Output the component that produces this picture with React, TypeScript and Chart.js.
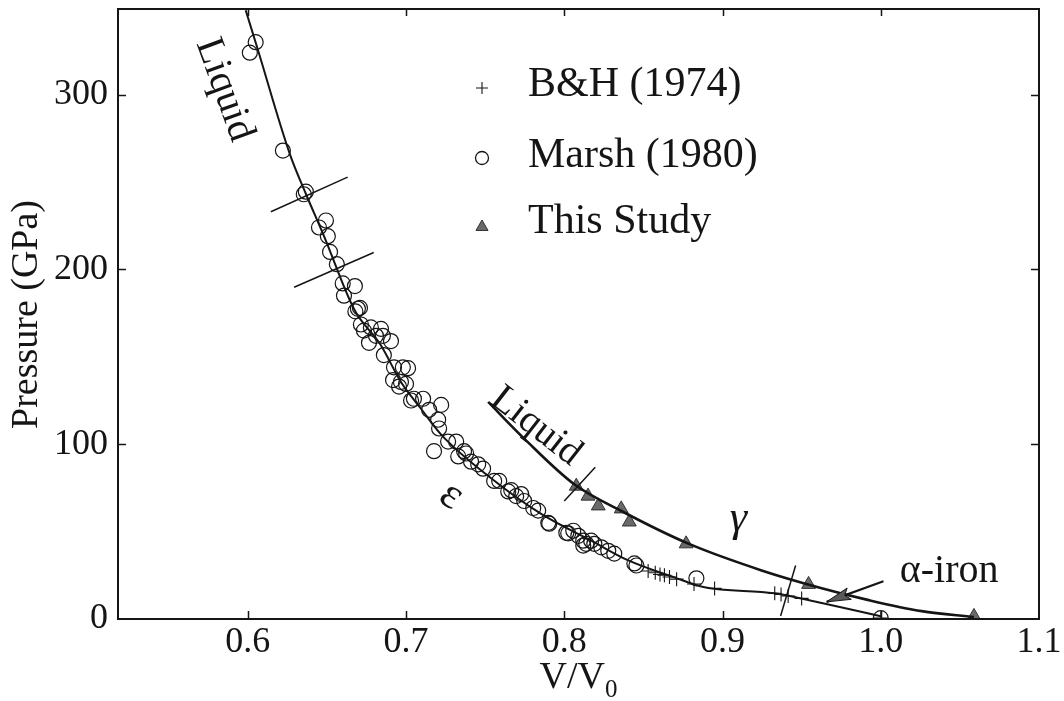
import React, { useEffect, useRef } from 'react';
import { Chart, registerables } from 'chart.js';

Chart.register(...registerables);

const FONT = '"Liberation Serif", "Times New Roman", serif';
const INK = '#151515';

// axis ticks
const xTickValues = [0.6, 0.7, 0.8, 0.9, 1.0, 1.1];
const yTickValues = [0, 100, 200, 300];

// epsilon / liquid Hugoniot (main curve)
const epsCurveX = [0.5987, 0.6061, 0.6266, 0.6367, 0.6483, 0.6673, 0.6842, 0.6968, 0.7095, 0.7222, 0.7538, 0.7854, 0.8171, 0.8405, 0.8696, 0.8886, 0.9329, 0.9627, 1.0];
const epsCurveY = [348.3, 326.5, 266, 243.3, 218.8, 177.1, 156.5, 135.6, 120.3, 105.5, 80.5, 60.1, 44.8, 33.5, 23.8, 18.2, 14.7, 9.1, 1.6];

// gamma / liquid Hugoniot (upper right curve)
const gammaCurveX = [0.7519, 0.7747, 0.8063, 0.8361, 0.8785, 0.9247, 0.9627, 0.9924, 1.0259, 1.0589];
const gammaCurveY = [124.2, 103.2, 77.1, 61.8, 43.1, 27.8, 17.6, 10.8, 4.5, 1.1];

// B&H (1974)
const bhX = [0.853, 0.8575, 0.8605, 0.8633, 0.8665, 0.871, 0.882, 0.895, 0.933, 0.937, 0.9415, 0.95, 1.0];
const bhY = [27.5, 26.5, 25.5, 25, 24, 22.8, 20, 17.5, 14.7, 14, 13.2, 11.8, 0.5];

// Marsh (1980)
const marshX = [0.605, 0.6013, 0.6222, 0.6367, 0.6354, 0.645, 0.6494, 0.6506, 0.652, 0.6563, 0.66, 0.6677, 0.6608, 0.6696, 0.6709, 0.668, 0.6715, 0.6734, 0.6778, 0.6842, 0.6854, 0.681, 0.6766, 0.6905, 0.686, 0.6924, 0.698, 0.7013, 0.6918, 0.6968, 0.7, 0.6956, 0.705, 0.7108, 0.7032, 0.7222, 0.7146, 0.7203, 0.7209, 0.7177, 0.7266, 0.7317, 0.7367, 0.733, 0.738, 0.7411, 0.7456, 0.7487, 0.7557, 0.7589, 0.7646, 0.7665, 0.7696, 0.7728, 0.7747, 0.7804, 0.7835, 0.7899, 0.7905, 0.8013, 0.8057, 0.8025, 0.8089, 0.812, 0.8139, 0.812, 0.817, 0.819, 0.8234, 0.8278, 0.8316, 0.8443, 0.8456, 0.8835, 1.0];
const marshY = [330, 324, 268, 244.5, 243, 224, 228, 219, 210, 203, 192, 190.5, 185, 177.5, 178, 176, 168.5, 165, 166.8, 166, 162, 162, 158, 159, 151, 144, 144, 143.5, 136.7, 135.6, 134.5, 133, 126, 126, 125, 122.5, 119.7, 114, 109, 96, 101.5, 101.5, 96, 93, 94.7, 90, 88.5, 86, 79, 79, 73, 73.7, 70.3, 71.5, 67.5, 63.5, 62, 55, 54.5, 49.3, 50.5, 49, 47.6, 44.8, 43, 42, 44.8, 43, 41, 39, 37.4, 31.8, 30.6, 23.3, 0.5];

// This Study
const studyX = [0.8076, 0.815, 0.8215, 0.836, 0.8411, 0.877, 0.9544, 1.0589];
const studyY = [76, 70.3, 64.7, 63, 55.5, 43, 19.8, 1.5];

// phase-boundary marks (start, end)
const boundaryA = [[0.6146, 233], [0.6631, 252.8]];
const boundaryB = [[0.6293, 189.8], [0.6796, 209.7]];
const boundaryC = [[0.8, 67.5], [0.8196, 86.8]];
const boundaryD = [[0.9367, 1.7], [0.9462, 30.6]];

// arrow for the alpha-iron label (tail, tip)
const arrowLine = [[1.0017, 21.6], [0.9658, 9.8]];

// legend entries
const legendLabels = ['B&H (1974)', 'Marsh (1980)', 'This Study'];

// text annotations in data coordinates
const annotations = [
  { text: 'Liquid', x: 0.5789, y: 300.7, rot: 70, size: 40, italic: false, align: 'center', base: 'alphabetic' },
  { text: 'Liquid', x: 0.7782, y: 105.5, rot: 38, size: 39, italic: false, align: 'center', base: 'alphabetic' },
  { text: 'ε', x: 0.7285, y: 70.5, rot: 35, size: 44, italic: false, align: 'center', base: 'middle' },
  { text: 'γ', x: 0.9101, y: 50.5, rot: 0, size: 44, italic: true, align: 'center', base: 'alphabetic' },
  { text: 'α-iron', x: 1.012, y: 21, rot: 0, size: 40, italic: false, align: 'left', base: 'alphabetic' },
];

function pts(xs: number[], ys: number[]) {
  return xs.map((x, i) => ({ x, y: ys[i] }));
}
function seg(p: number[][]) {
  return p.map(([x, y]) => ({ x, y }));
}

const lineDs = (data: any[], width: number, smooth: boolean) => ({
  type: 'line' as const,
  data,
  showLine: true,
  borderColor: INK,
  borderWidth: width,
  pointRadius: 0,
  fill: false,
  cubicInterpolationMode: smooth ? ('monotone' as const) : ('default' as const),
  tension: 0,
});

function drawTriangle(ctx: CanvasRenderingContext2D, cx: number, cy: number, r: number) {
  ctx.beginPath();
  for (let k = 0; k < 3; k++) {
    const a = (k * 2 * Math.PI) / 3;
    const px = cx + Math.sin(a) * r;
    const py = cy - Math.cos(a) * r;
    if (k === 0) ctx.moveTo(px, py);
    else ctx.lineTo(px, py);
  }
  ctx.closePath();
}

const overlayPlugin = {
  id: 'overlay',
  beforeDraw(chart: any) {
    const { ctx, width, height } = chart;
    ctx.save();
    ctx.fillStyle = '#ffffff';
    ctx.fillRect(0, 0, width, height);
    ctx.restore();
  },
  afterDraw(chart: any) {
    const { ctx, chartArea: a, scales } = chart;
    const xs = scales.x;
    const ys = scales.y;
    ctx.save();

    // frame
    ctx.strokeStyle = INK;
    ctx.lineWidth = 2;
    ctx.strokeRect(a.left, a.top, a.right - a.left, a.bottom - a.top);

    // inward ticks on all sides
    ctx.lineWidth = 1.5;
    ctx.beginPath();
    for (const v of xTickValues) {
      const px = Math.round(xs.getPixelForValue(v)) + 0.5;
      if (px > a.right - 2 || px < a.left + 2) continue;
      ctx.moveTo(px, a.bottom);
      ctx.lineTo(px, a.bottom - 8);
      ctx.moveTo(px, a.top);
      ctx.lineTo(px, a.top + 7);
    }
    for (const v of yTickValues) {
      const py = Math.round(ys.getPixelForValue(v)) + 0.5;
      if (py > a.bottom - 2 || py < a.top + 2) continue;
      ctx.moveTo(a.left, py);
      ctx.lineTo(a.left + 8, py);
      ctx.moveTo(a.right, py);
      ctx.lineTo(a.right - 8, py);
    }
    ctx.stroke();

    // arrow head
    const [tail, tip] = arrowLine;
    const tx = xs.getPixelForValue(tail[0]);
    const ty = ys.getPixelForValue(tail[1]);
    const hx = xs.getPixelForValue(tip[0]);
    const hy = ys.getPixelForValue(tip[1]);
    const ang = Math.atan2(hy - ty, hx - tx);
    const L = 24;
    const W = 6;
    ctx.beginPath();
    ctx.moveTo(hx, hy);
    ctx.lineTo(hx - L * Math.cos(ang) + W * Math.sin(ang), hy - L * Math.sin(ang) - W * Math.cos(ang));
    ctx.lineTo(hx - L * 0.8 * Math.cos(ang), hy - L * 0.8 * Math.sin(ang));
    ctx.lineTo(hx - L * Math.cos(ang) - W * Math.sin(ang), hy - L * Math.sin(ang) + W * Math.cos(ang));
    ctx.closePath();
    ctx.fillStyle = '#5a5a5a';
    ctx.fill();
    ctx.strokeStyle = INK;
    ctx.lineWidth = 1;
    ctx.stroke();

    // annotations
    ctx.fillStyle = INK;
    for (const t of annotations) {
      const px = xs.getPixelForValue(t.x);
      const py = ys.getPixelForValue(t.y);
      ctx.save();
      ctx.translate(px, py);
      ctx.rotate((t.rot * Math.PI) / 180);
      ctx.font = `${t.italic ? 'italic ' : ''}${t.size}px ${FONT}`;
      ctx.textAlign = t.align as CanvasTextAlign;
      ctx.textBaseline = t.base as CanvasTextBaseline;
      ctx.fillText(t.text, 0, 0);
      ctx.restore();
    }

    // legend
    const lx = a.left + 364;
    const tx0 = a.left + 410;
    const rows = [83, 153, 221];
    const baselines = [91, 162, 228];
    ctx.font = `42px ${FONT}`;
    ctx.textAlign = 'left';
    ctx.textBaseline = 'alphabetic';
    legendLabels.forEach((label, i) => {
      const my = a.top + rows[i] - 4;
      ctx.strokeStyle = INK;
      if (i === 0) {
        ctx.lineWidth = 1.1;
        ctx.beginPath();
        ctx.moveTo(lx - 6, my);
        ctx.lineTo(lx + 6, my);
        ctx.moveTo(lx, my - 6);
        ctx.lineTo(lx, my + 6);
        ctx.stroke();
      } else if (i === 1) {
        ctx.lineWidth = 1.3;
        ctx.beginPath();
        ctx.arc(lx, my, 6.5, 0, Math.PI * 2);
        ctx.stroke();
      } else {
        drawTriangle(ctx, lx, my + 1, 7);
        ctx.fillStyle = '#6a6a6a';
        ctx.fill();
        ctx.lineWidth = 1;
        ctx.strokeStyle = '#333';
        ctx.stroke();
      }
      ctx.fillStyle = INK;
      ctx.fillText(label, tx0, a.top + baselines[i] - 4);
    });

    // y axis title
    ctx.save();
    ctx.translate(37, (a.top + a.bottom) / 2 + 0.5);
    ctx.rotate(-Math.PI / 2);
    ctx.font = `38px ${FONT}`;
    ctx.textAlign = 'center';
    ctx.textBaseline = 'alphabetic';
    ctx.fillStyle = INK;
    ctx.fillText('Pressure (GPa)', 0, 0);
    ctx.restore();

    // x axis title V/V0
    ctx.font = `38px ${FONT}`;
    const main = 'V/V';
    const wMain = ctx.measureText(main).width;
    ctx.font = `25px ${FONT}`;
    const wSub = ctx.measureText('0').width;
    const startX = (a.left + a.right) / 2 - (wMain + wSub) / 2;
    ctx.font = `38px ${FONT}`;
    ctx.textAlign = 'left';
    ctx.fillText(main, startX, 688);
    ctx.font = `25px ${FONT}`;
    ctx.fillText('0', startX + wMain, 697);

    ctx.restore();
  },
};

export default function App() {
  const ref = useRef<HTMLCanvasElement | null>(null);

  useEffect(() => {
    document.body.style.margin = '0';
    const canvas = ref.current;
    if (!canvas) return;

    const tickFont = { family: FONT, size: 36 };

    const chart = new Chart(canvas, {
      type: 'scatter',
      data: {
        datasets: [
          lineDs(pts(epsCurveX, epsCurveY), 2, true),
          lineDs(pts(gammaCurveX, gammaCurveY), 2.6, true),
          lineDs(seg(boundaryA), 1.5, false),
          lineDs(seg(boundaryB), 1.5, false),
          lineDs(seg(boundaryC), 1.5, false),
          lineDs(seg(boundaryD), 1.5, false),
          lineDs(seg(arrowLine), 2.2, false),
          {
            label: legendLabels[1],
            data: pts(marshX, marshY),
            pointStyle: 'circle',
            pointRadius: 7.5,
            borderColor: INK,
            borderWidth: 1.2,
            backgroundColor: 'rgba(0,0,0,0)',
            showLine: false,
          },
          {
            label: legendLabels[0],
            data: pts(bhX, bhY),
            pointStyle: 'cross',
            pointRadius: 7,
            borderColor: INK,
            borderWidth: 1.1,
            showLine: false,
          },
          {
            label: legendLabels[2],
            data: pts(studyX, studyY),
            pointStyle: 'triangle',
            pointRadius: 8,
            borderColor: '#333',
            borderWidth: 1,
            backgroundColor: '#6a6a6a',
            showLine: false,
          },
        ] as any,
      },
      options: {
        animation: false,
        responsive: false,
        maintainAspectRatio: false,
        layout: { padding: { left: 0, right: 25, top: 4, bottom: 0 } },
        plugins: {
          legend: { display: false },
          tooltip: { enabled: false },
        },
        scales: {
          x: {
            type: 'linear',
            min: 0.518,
            max: 1.1,
            grid: { display: false, drawTicks: false },
            border: { display: false },
            ticks: {
              font: tickFont,
              color: INK,
              padding: 2,
              maxRotation: 0,
              callback: (v: any) => Number(v).toFixed(1),
            },
            afterBuildTicks: (s: any) => {
              s.ticks = xTickValues.map((v) => ({ value: v }));
            },
            afterFit: (s: any) => {
              s.height = 82;
              s.paddingLeft = 0;
              s.paddingRight = 0;
            },
          },
          y: {
            type: 'linear',
            min: 0,
            max: 349,
            grid: { display: false, drawTicks: false },
            border: { display: false },
            ticks: {
              font: tickFont,
              color: INK,
              padding: 10,
              callback: (v: any) => String(v),
            },
            afterBuildTicks: (s: any) => {
              s.ticks = yTickValues.map((v) => ({ value: v }));
            },
            afterFit: (s: any) => {
              s.width = 118;
              s.paddingTop = 0;
              s.paddingBottom = 0;
            },
          },
        },
      } as any,
      plugins: [overlayPlugin],
    });

    return () => chart.destroy();
  }, []);

  return (
    <div style={{ width: 1064, height: 701 }}>
      <canvas ref={ref} width={1064} height={701} style={{ width: 1064, height: 701, display: 'block' }} />
    </div>
  );
}
